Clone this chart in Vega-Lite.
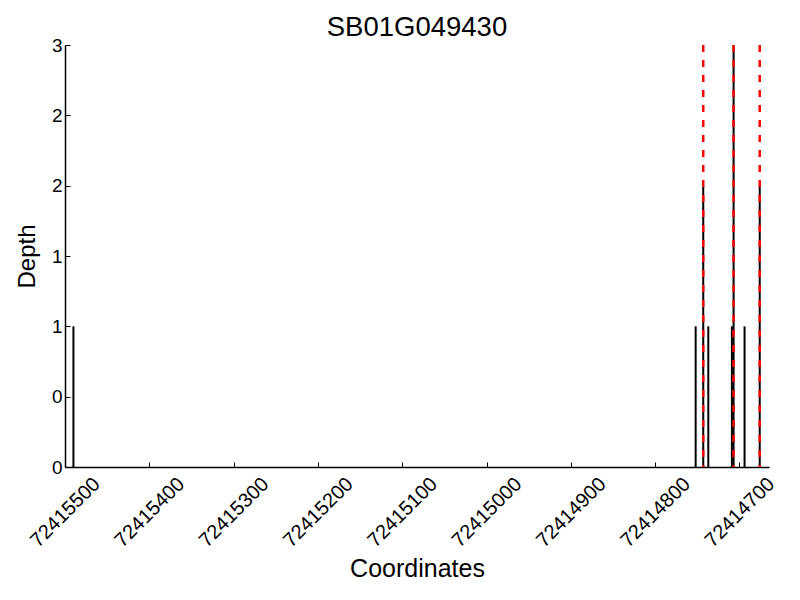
{
  "$schema": "https://vega.github.io/schema/vega-lite/v6.json",
  "autosize": "none",
  "width": 704,
  "height": 422,
  "padding": {"left": 65, "top": 45, "right": 31, "bottom": 133},
  "background": "white",
  "config": {
    "view": {"stroke": null},
    "font": "Liberation Sans",
    "axis": {"domainColor": "black", "tickColor": "black", "labelColor": "black", "titleColor": "black", "grid": false, "labelFont": "Liberation Sans", "titleFont": "Liberation Sans", "titleFontWeight": "normal", "domainWidth": 1.5, "tickWidth": 1}
  },
  "title": {"text": "SB01G049430", "fontSize": 27.5, "fontWeight": "normal", "font": "Liberation Sans", "color": "black", "offset": -5},
  "datasets": {
    "depth": [
      {"pos": 72415490, "depth": 1},
      {"pos": 72414752, "depth": 1},
      {"pos": 72414743, "depth": 2},
      {"pos": 72414737, "depth": 1},
      {"pos": 72414709, "depth": 1},
      {"pos": 72414707, "depth": 3},
      {"pos": 72414694, "depth": 1},
      {"pos": 72414676, "depth": 2}
    ],
    "marks": [
      {"pos": 72414743},
      {"pos": 72414707},
      {"pos": 72414676}
    ]
  },
  "layer": [
    {
      "data": {"name": "depth"},
      "mark": {"type": "rule", "color": "black", "strokeWidth": 2},
      "encoding": {
        "x": {"field": "pos", "type": "quantitative",
          "scale": {"domain": [72414665, 72415500], "reverse": true, "nice": false, "zero": false},
          "axis": {"title": "Coordinates", "titleFontSize": 25, "titlePadding": 6, "values": [72415500, 72415400, 72415300, 72415200, 72415100, 72415000, 72414900, 72414800, 72414700], "format": "d", "labelAngle": -45, "labelAlign": "center", "labelBaseline": "middle", "labelFontSize": 20, "labelPadding": 50, "tickSize": -5, "labelFlush": false, "labelOverlap": false}},
        "y": {"field": "depth", "type": "quantitative",
          "scale": {"domain": [0, 3], "nice": false},
          "axis": {"title": "Depth", "titleFontSize": 24, "titlePadding": 12, "values": [0, 0.5, 1, 1.5, 2, 2.5, 3], "labelExpr": "floor(datum.value)", "labelFontSize": 19, "labelPadding": 8, "tickSize": -5, "labelFlush": false, "labelOverlap": false}},
        "y2": {"datum": 0}
      }
    },
    {
      "data": {"name": "marks"},
      "mark": {"type": "rule", "color": "red", "strokeWidth": 2.5, "strokeDash": [7, 8]},
      "encoding": {
        "x": {"field": "pos", "type": "quantitative"}
      }
    }
  ]
}
